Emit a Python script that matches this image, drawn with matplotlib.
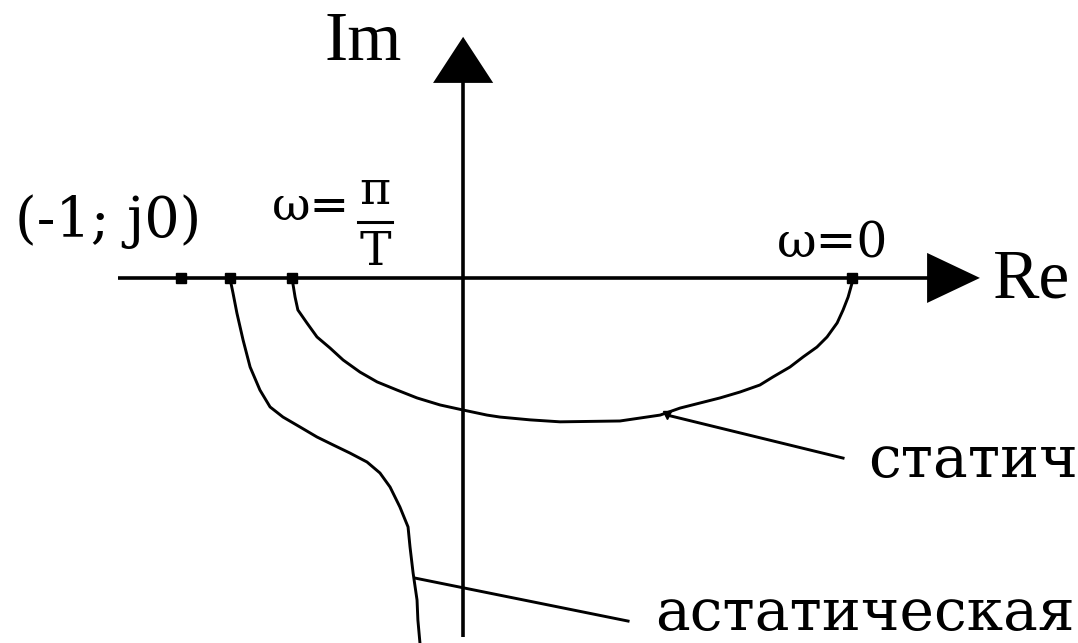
import matplotlib
matplotlib.use("Agg")
import matplotlib.pyplot as plt
from matplotlib.patches import Polygon

# Nyquist (amplitude-phase) characteristics, in units of the Re/Im plane
static_re = [-0.605, -0.594, -0.584, -0.552, -0.516, -0.470, -0.423, -0.363, -0.302,
             -0.231, -0.160, -0.078, 0.004, 0.089, 0.135, 0.242, 0.349, 0.562,
             0.705, 0.776, 0.847, 0.918, 0.989, 1.060, 1.107, 1.167, 1.214, 1.263,
             1.299, 1.335, 1.356, 1.374, 1.388, 1.388]
static_im = [0.0, -0.068, -0.114, -0.160, -0.210, -0.249, -0.292, -0.335, -0.370,
             -0.399, -0.427, -0.452, -0.470, -0.488, -0.495, -0.505, -0.512, -0.509,
             -0.488, -0.463, -0.445, -0.427, -0.406, -0.381, -0.352, -0.317, -0.281,
             -0.246, -0.210, -0.160, -0.114, -0.068, -0.018, 0.0]

astatic_re = [-0.826, -0.815, -0.801, -0.779, -0.754, -0.719, -0.683, -0.637,
              -0.577, -0.516, -0.459, -0.399, -0.338, -0.292, -0.256, -0.221,
              -0.192, -0.185, -0.174, -0.160, -0.157, -0.149]
astatic_im = [0.0, -0.053, -0.125, -0.221, -0.317, -0.399, -0.459, -0.495,
              -0.530, -0.566, -0.594, -0.623, -0.655, -0.694, -0.744, -0.815,
              -0.886, -0.957, -1.050, -1.146, -1.217, -1.306]

# Marked points on the real axis
critical_point = -1.0          # (-1; j0)
astatic_start = -0.826
omega_pi_T = -0.605            # static curve at ω = π/T
omega_zero = 1.388             # static curve at ω = 0

# Leader lines to the curve names
static_leader_re = [0.730, 1.356]
static_leader_im = [-0.488, -0.641]
astatic_leader_re = [-0.167, 0.591]
astatic_leader_im = [-1.068, -1.221]

labels = {"static": "статич", "astatic": "астатическая"}

W, H = 1078, 643
fig = plt.figure(figsize=(W / 100, H / 100), dpi=100)
ax = fig.add_axes([0, 0, 1, 1])
ax.set_xlim(-1.644, 2.192)
ax.set_ylim(-1.299, 0.989)
ax.axis("off")

k = "black"
axis_lw = 2.6
curve_lw = 2.1

# Coordinate axes with filled arrowheads
ax.plot([-1.224, 1.66], [0, 0], color=k, lw=axis_lw, solid_capstyle="butt")
ax.add_patch(Polygon([[1.655, 0.089], [1.655, -0.089], [1.843, 0.0]],
                     closed=True, color=k, lw=0))
ax.plot([0.004, 0.004], [-1.278, 0.70], color=k, lw=axis_lw, solid_capstyle="butt")
ax.add_patch(Polygon([[-0.103, 0.694], [0.111, 0.694], [0.004, 0.858]],
                     closed=True, color=k, lw=0))

# Curves
line_kw = dict(color=k, lw=curve_lw, solid_joinstyle="round")
ax.plot(static_re, static_im, **line_kw)
ax.plot(astatic_re, astatic_im, **line_kw)

# Leader lines
ax.plot(static_leader_re, static_leader_im, **line_kw)
ax.plot(astatic_leader_re, astatic_leader_im, **line_kw)

# Points on the real axis
pts = [critical_point, astatic_start, omega_pi_T, omega_zero]
ax.plot(pts, [0] * len(pts), linestyle="none", marker="s", markersize=6.5,
        color=k)
ax.plot(static_leader_re[:1], static_leader_im[:1], linestyle="none",
        marker="v", markersize=6, color=k)

# Axis names
ax.text(-0.488, 0.776, "Im", family="Liberation Serif", fontsize=50,
        ha="left", va="baseline")
ax.text(1.890, -0.071, "Re", family="Liberation Serif", fontsize=50,
        ha="left", va="baseline")

lab_font = dict(family="DejaVu Serif", fontsize=34, va="baseline")
ax.text(-1.591, 0.146, "(-1; j0)", ha="left", family="DejaVu Serif",
        fontsize=40, va="baseline")
ax.text(-0.676, 0.206, "ω=", ha="left", **lab_font)
ax.text(-0.310, 0.262, "π", ha="center", **lab_font)
ax.plot([-0.370, -0.249], [0.199, 0.199], color=k, lw=2.2)
ax.text(-0.310, 0.046, "T", ha="center", **lab_font)
ax.text(1.121, 0.071, "ω=0", ha="left", family="DejaVu Serif", fontsize=35,
        va="baseline")

name_font = dict(family="DejaVu Serif", fontsize=42, ha="left")
ax.text(1.445, -0.708, labels["static"], va="baseline", **name_font)
ax.text(0.687, -1.297, labels["astatic"], va="bottom", **name_font)

fig.savefig("out.png", dpi=100, facecolor="white")
